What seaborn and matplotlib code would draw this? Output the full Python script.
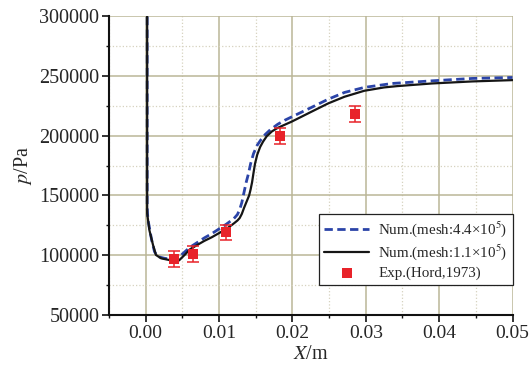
import numpy as np
import pandas as pd
import matplotlib
matplotlib.use("Agg")
import matplotlib.pyplot as plt
import seaborn as sns
from matplotlib.ticker import MultipleLocator, FormatStrFormatter

# ---- data ----
x_fine = [0.0002, 0.0002, 0.0003, 0.0008, 0.0012, 0.0016, 0.0025, 0.0035, 0.0042,
          0.0050, 0.0060, 0.0070, 0.0080, 0.0090, 0.0100, 0.0110, 0.0120, 0.0125,
          0.0128, 0.0131, 0.0134, 0.0137, 0.0140, 0.0143, 0.0147, 0.0152, 0.0157,
          0.0163, 0.0170, 0.0180, 0.0190, 0.0226, 0.0249, 0.0271, 0.0298, 0.0336,
          0.0390, 0.0445, 0.0500]
p_fine = [310000, 140000, 130000, 113000, 103000, 99000, 97500, 96500, 95500,
          101000, 106500, 110500, 114500, 118000, 122000, 126000, 130500, 134000,
          138000, 144000, 152500, 161000, 168000, 176500, 185000, 192000, 196500,
          201000, 205000, 209500, 213000, 223600, 230500, 236100, 240300, 243600,
          245800, 247800, 248600]

x_coarse = [0.0002, 0.0002, 0.0005, 0.0010, 0.0014, 0.0021, 0.0032, 0.0041, 0.0046,
            0.0053, 0.0060, 0.0070, 0.0080, 0.0090, 0.0100, 0.0110, 0.0120, 0.0125,
            0.0128, 0.0131, 0.0134, 0.0138, 0.0141, 0.0143, 0.0145, 0.0147, 0.0149,
            0.0152, 0.0156, 0.0160, 0.0165, 0.0172, 0.0180, 0.0199, 0.0226, 0.0249,
            0.0271, 0.0298, 0.0325, 0.0343, 0.0390, 0.0445, 0.0500]
p_coarse = [310000, 135000, 121000, 108500, 100200, 97400, 96000, 93700, 96000,
            100200, 104800, 108500, 112000, 115000, 118500, 122000, 126500, 129000,
            131000, 134500, 139500, 145500, 150000, 155000, 161000, 169000, 176500,
            184000, 190500, 195000, 199500, 203500, 206500, 211700, 220000, 227000,
            232500, 237500, 240300, 241400, 243600, 245300, 246400]

x_exp = [0.0039, 0.0065, 0.0109, 0.0183, 0.0285]
p_exp = [96800, 101000, 119200, 199700, 217800]
p_err = [6700, 7000, 6300, 6700, 6700]

label_fine = "Num.(mesh:4.4×10$^5$)"
label_coarse = "Num.(mesh:1.1×10$^5$)"
label_exp = "Exp.(Hord,1973)"

df_fine = pd.DataFrame({"x": x_fine, "p": p_fine})
df_coarse = pd.DataFrame({"x": x_coarse, "p": p_coarse})
df_exp = pd.DataFrame({"x": x_exp, "p": p_exp, "err": p_err})

# ---- style ----
sns.set_style("white")
plt.rcParams["font.family"] = ["Liberation Serif", "DejaVu Serif"]
plt.rcParams["mathtext.fontset"] = "stix"

fig = plt.figure(figsize=(5.30, 3.69), dpi=100)
ax = fig.add_axes([0.2057, 0.1463, 0.7613, 0.8103])

blue = "#2b44a8"
red = "#e8232a"

sns.lineplot(data=df_fine, x="x", y="p", sort=False, estimator=None, ax=ax,
             color=blue, lw=2.0, label=label_fine, zorder=3)
ax.lines[-1].set_dashes([3.0, 1.6])
sns.lineplot(data=df_coarse, x="x", y="p", sort=False, estimator=None, ax=ax,
             color="#151515", lw=1.6, label=label_coarse, zorder=4)
ax.errorbar(df_exp["x"], df_exp["p"], yerr=df_exp["err"], fmt="none",
            ecolor=red, elinewidth=1.1, capsize=4, capthick=1.1, zorder=5)
sns.scatterplot(data=df_exp, x="x", y="p", marker="s", s=55, color=red,
                edgecolor=red, linewidth=0, ax=ax, label=label_exp, zorder=6)

ax.set_xlim(-0.005, 0.05)
ax.set_ylim(50000, 300000)
ax.xaxis.set_major_locator(MultipleLocator(0.01))
ax.xaxis.set_minor_locator(MultipleLocator(0.005))
ax.yaxis.set_major_locator(MultipleLocator(50000))
ax.yaxis.set_minor_locator(MultipleLocator(25000))
ax.xaxis.set_major_formatter(FormatStrFormatter("%.2f"))
ax.yaxis.set_major_formatter(FormatStrFormatter("%d"))

ax.grid(True, which="major", color="#bbb697", lw=1.1, zorder=0)
ax.grid(True, which="minor", color="#d6d2bf", lw=0.9, ls=":", zorder=0)
ax.set_axisbelow(True)

for s in ["top", "right"]:
    ax.spines[s].set_visible(False)
for s in ["left", "bottom"]:
    ax.spines[s].set_color("#111111")
    ax.spines[s].set_linewidth(1.5)

ax.tick_params(axis="y", which="major", labelsize=14.5)
ax.tick_params(axis="x", which="major", labelsize=14)
ax.tick_params(axis="both", which="major", direction="out", length=5, width=1.2,
               color="#111111", pad=2, left=True, bottom=True)
ax.tick_params(axis="both", which="minor", direction="out", length=2.5, width=1.0,
               color="#111111", left=True, bottom=True)

ax.set_xlabel("$X$/m", fontsize=14.5, labelpad=2)
ax.set_ylabel("$p$/Pa", fontsize=14.5, labelpad=4)

leg = ax.legend(loc="lower right", bbox_to_anchor=(1.0, 0.1), borderaxespad=0,
                fontsize=10.8, frameon=True, fancybox=False, edgecolor="#222222",
                framealpha=1, handlelength=3.0, labelspacing=0.25,
                borderpad=0.35, handletextpad=0.6, markerscale=0.9)
leg.get_frame().set_linewidth(0.9)

fig.savefig("out.png", dpi=100)
